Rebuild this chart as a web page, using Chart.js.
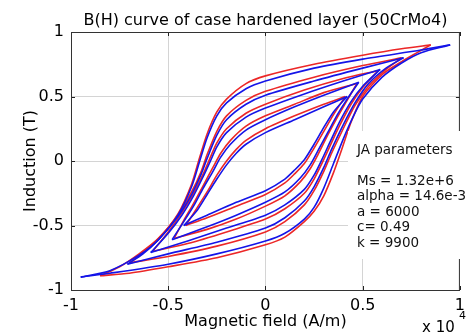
<!DOCTYPE html>
<html>
<head>
<meta charset="utf-8">
<script src="https://cdn.jsdelivr.net/npm/chart.js@4/dist/chart.umd.min.js"></script>
<style>
  html, body { margin: 0; padding: 0; background: #fff; }
  #wrap { width: 471px; height: 333px; }
</style>
</head>
<body>
<div id="wrap"><canvas id="bh" width="471" height="333"></canvas></div>
<script>
// Magnetic field in units of 1e4 A/m, induction in T.
// Each loop: upper tip -> descending branch -> lower tip -> ascending branch -> upper tip
const red1 = [[0.85,0.90],[0.7,0.87],[0.5,0.82],[0.25,0.75],[0,0.66],[-0.1,0.60],[-0.2,0.48],[-0.25,0.38],[-0.3,0.21],[-0.34,0.02],[-0.38,-0.18],[-0.45,-0.41],[-0.55,-0.60],[-0.65,-0.72],[-0.75,-0.82],[-0.85,-0.89],
  [-0.7,-0.87],[-0.5,-0.82],[-0.25,-0.75],[0,-0.65],[0.1,-0.59],[0.2,-0.47],[0.25,-0.39],[0.3,-0.27],[0.35,-0.09],[0.39,0.08],[0.44,0.3],[0.5,0.5],[0.6,0.67],[0.7,0.77],[0.78,0.84],[0.85,0.90]];
const blue1 = [[0.95,0.90],[0.8,0.86],[0.5,0.79],[0.25,0.72],[0,0.62],[-0.1,0.56],[-0.2,0.45],[-0.25,0.35],[-0.3,0.18],[-0.34,-0.01],[-0.38,-0.2],[-0.45,-0.42],[-0.55,-0.61],[-0.65,-0.73],[-0.8,-0.85],[-0.95,-0.90],
  [-0.8,-0.87],[-0.5,-0.80],[-0.25,-0.72],[0,-0.62],[0.1,-0.56],[0.2,-0.45],[0.25,-0.36],[0.3,-0.21],[0.35,-0.02],[0.4,0.17],[0.45,0.34],[0.5,0.48],[0.6,0.65],[0.7,0.76],[0.8,0.84],[0.95,0.90]];
const red2 = [[0.70,0.80],[0.5,0.74],[0.25,0.65],[0,0.54],[-0.1,0.47],[-0.2,0.35],[-0.25,0.23],[-0.3,0.05],[-0.33,-0.08],[-0.38,-0.24],[-0.45,-0.42],[-0.55,-0.60],[-0.63,-0.71],[-0.70,-0.79],
  [-0.5,-0.74],[-0.25,-0.66],[0,-0.55],[0.1,-0.47],[0.2,-0.34],[0.25,-0.23],[0.3,-0.08],[0.34,0.06],[0.4,0.25],[0.46,0.43],[0.53,0.58],[0.62,0.71],[0.70,0.80]];
const blue2 = [[0.71,0.80],[0.5,0.72],[0.25,0.62],[0,0.51],[-0.1,0.44],[-0.2,0.32],[-0.25,0.20],[-0.3,0.02],[-0.33,-0.1],[-0.38,-0.26],[-0.45,-0.43],[-0.55,-0.61],[-0.63,-0.72],[-0.71,-0.80],
  [-0.5,-0.72],[-0.25,-0.63],[0,-0.52],[0.1,-0.44],[0.2,-0.31],[0.25,-0.2],[0.3,-0.05],[0.34,0.09],[0.4,0.28],[0.46,0.45],[0.53,0.6],[0.62,0.72],[0.71,0.80]];
const red3 = [[0.58,0.70],[0.4,0.64],[0.2,0.55],[0,0.44],[-0.1,0.37],[-0.2,0.25],[-0.25,0.14],[-0.28,0.04],[-0.32,-0.10],[-0.37,-0.25],[-0.43,-0.40],[-0.5,-0.55],[-0.58,-0.70],
  [-0.4,-0.64],[-0.2,-0.55],[0,-0.45],[0.1,-0.37],[0.2,-0.25],[0.25,-0.14],[0.29,-0.02],[0.33,0.11],[0.38,0.27],[0.44,0.44],[0.5,0.57],[0.58,0.70]];
const blue3 = [[0.59,0.71],[0.4,0.62],[0.2,0.52],[0,0.41],[-0.1,0.34],[-0.2,0.22],[-0.25,0.11],[-0.28,0.01],[-0.32,-0.12],[-0.37,-0.27],[-0.43,-0.42],[-0.5,-0.56],[-0.59,-0.71],
  [-0.4,-0.62],[-0.2,-0.52],[0,-0.42],[0.1,-0.34],[0.2,-0.22],[0.25,-0.11],[0.29,0.01],[0.33,0.14],[0.38,0.3],[0.44,0.46],[0.5,0.58],[0.59,0.71]];
const red4 = [[0.47,0.60],[0.3,0.53],[0.15,0.44],[0,0.35],[-0.1,0.27],[-0.18,0.16],[-0.23,0.06],[-0.27,-0.05],[-0.32,-0.19],[-0.37,-0.33],[-0.42,-0.46],[-0.47,-0.60],
  [-0.3,-0.53],[-0.15,-0.45],[0,-0.35],[0.1,-0.27],[0.18,-0.16],[0.23,-0.06],[0.27,0.05],[0.32,0.2],[0.37,0.34],[0.42,0.47],[0.47,0.60]];
const blue4 = [[0.48,0.61],[0.3,0.51],[0.15,0.42],[0,0.32],[-0.1,0.24],[-0.18,0.13],[-0.23,0.03],[-0.27,-0.08],[-0.32,-0.21],[-0.37,-0.35],[-0.42,-0.47],[-0.48,-0.61],
  [-0.3,-0.51],[-0.15,-0.42],[0,-0.32],[0.1,-0.24],[0.18,-0.13],[0.23,-0.03],[0.27,0.08],[0.32,0.22],[0.37,0.36],[0.42,0.48],[0.48,0.61]];
const red5 = [[0.41,0.50],[0.3,0.44],[0.15,0.35],[0,0.25],[-0.1,0.16],[-0.15,0.09],[-0.2,0.0],[-0.25,-0.11],[-0.3,-0.24],[-0.35,-0.36],[-0.41,-0.50],
  [-0.3,-0.44],[-0.15,-0.35],[0,-0.26],[0.1,-0.17],[0.15,-0.10],[0.2,-0.02],[0.25,0.1],[0.3,0.23],[0.35,0.36],[0.41,0.50]];
const blue5 = [[0.42,0.50],[0.3,0.42],[0.15,0.32],[0,0.22],[-0.1,0.13],[-0.15,0.06],[-0.2,-0.03],[-0.25,-0.14],[-0.3,-0.26],[-0.35,-0.38],[-0.42,-0.50],
  [-0.3,-0.42],[-0.15,-0.32],[0,-0.23],[0.1,-0.14],[0.15,-0.07],[0.2,0.01],[0.25,0.13],[0.3,0.26],[0.35,0.38],[0.42,0.50]];

const xTicks = [-1, -0.5, 0, 0.5, 1];
const yTicks = [-1, -0.5, 0, 0.5, 1];
const jaLines = ['JA parameters', '', 'Ms = 1.32e+6', 'alpha = 14.6e-3', 'a = 6000', 'c= 0.49', 'k = 9900'];

const RED = '#ec2727';
const BLUE = '#1414e8';
const FONT = 'DejaVu Sans';

Chart.defaults.font.family = FONT;
Chart.defaults.color = '#000';

// split a loop at its lower tip so the spline does not round the cusp
function branches(loop, color) {
  let tip = 0;
  loop.forEach((p, i) => { if (p[0] < loop[tip][0]) tip = i; });
  const toXY = pts => pts.map(p => ({ x: p[0], y: p[1] }));
  const base = { borderColor: color, borderWidth: 1.6, pointRadius: 0, showLine: true, tension: 0.25, fill: false };
  return [
    Object.assign({ data: toXY(loop.slice(0, tip + 1)) }, base),
    Object.assign({ data: toXY(loop.slice(tip)) }, base)
  ];
}

// blue first so it is painted on top
const datasets = [];
[blue1, blue2, blue3, blue4, blue5].forEach(l => datasets.push(...branches(l, BLUE)));
[red1, red2, red3, red4, red5].forEach(l => datasets.push(...branches(l, RED)));

const decor = {
  id: 'decor',
  afterDatasetsDraw(chart) {
    const { ctx, chartArea: a, scales: { x, y } } = chart;
    ctx.save();
    // inward tick marks
    ctx.strokeStyle = '#222';
    ctx.lineWidth = 1;
    ctx.beginPath();
    xTicks.forEach(v => {
      const px = Math.round(x.getPixelForValue(v)) + 0.5;
      ctx.moveTo(px, a.bottom); ctx.lineTo(px, a.bottom - 4);
      ctx.moveTo(px, a.top); ctx.lineTo(px, a.top + 4);
    });
    yTicks.forEach(v => {
      const py = Math.round(y.getPixelForValue(v)) + 0.5;
      ctx.moveTo(a.left, py); ctx.lineTo(a.left + 4, py);
      ctx.moveTo(a.right, py); ctx.lineTo(a.right - 4, py);
    });
    ctx.stroke();
    // axes box
    ctx.strokeStyle = '#333';
    ctx.strokeRect(a.left + 0.5, a.top + 0.5, a.right - a.left - 1, a.bottom - a.top);

    // title centred on the plot area
    ctx.fillStyle = '#000';
    ctx.textAlign = 'center';
    ctx.textBaseline = 'middle';
    ctx.font = '16px "' + FONT + '"';
    ctx.fillText('B(H) curve of case hardened layer (50CrMo4)', (a.left + a.right) / 2, 21);

    // exponent label
    ctx.textAlign = 'left';
    ctx.font = '15px "' + FONT + '"';
    ctx.fillText('x 10', 422, 328);
    ctx.font = '11px "' + FONT + '"';
    ctx.fillText('4', 459, 316);

    // JA parameter text box
    ctx.fillStyle = '#fff';
    ctx.fillRect(348, 131, 123, 128);
    ctx.fillStyle = '#111';
    ctx.font = '13.5px "' + FONT + '"';
    jaLines.forEach((t, i) => {
      if (t) ctx.fillText(t, 357, 150 + i * 15.5);
    });
    ctx.restore();
  }
};

new Chart(document.getElementById('bh'), {
  type: 'scatter',
  data: { datasets },
  options: {
    responsive: false,
    animation: false,
    devicePixelRatio: 1,
    layout: { padding: { left: 0, right: 8, top: 32, bottom: 0 } },
    plugins: { legend: { display: false }, tooltip: { enabled: false } },
    scales: {
      x: {
        type: 'linear', min: -1, max: 1,
        afterBuildTicks: s => { s.ticks = xTicks.map(v => ({ value: v })); },
        afterFit: s => { s.height = 43; },
        grid: { color: '#d4d4d4', drawTicks: false },
        border: { display: false },
        ticks: { padding: 6, font: { size: 16 }, color: '#000', callback: v => String(v) },
        title: { display: true, text: 'Magnetic field (A/m)', font: { size: 16, lineHeight: 1.2 }, padding: { top: 0, bottom: 1.5 }, color: '#000' }
      },
      y: {
        type: 'linear', min: -1, max: 1,
        afterBuildTicks: s => { s.ticks = yTicks.map(v => ({ value: v })); },
        afterFit: s => { s.width = 71; },
        grid: { color: '#d4d4d4', drawTicks: false },
        border: { display: false },
        ticks: { padding: 7, font: { size: 16 }, color: '#000', callback: v => String(v) },
        title: { display: true, text: 'Induction (T)', font: { size: 16, lineHeight: 1.2 }, padding: { top: 21, bottom: 0 }, color: '#000' }
      }
    }
  },
  plugins: [decor]
});
</script>
</body>
</html>
